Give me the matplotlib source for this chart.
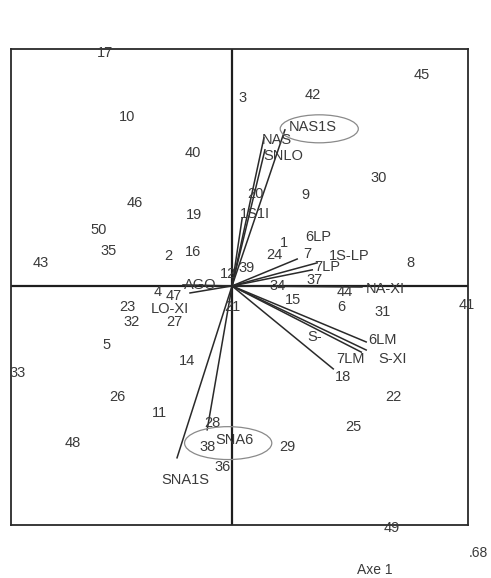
import matplotlib

matplotlib.use("Agg")
import matplotlib.pyplot as plt
from matplotlib.patches import Ellipse

# observation scores on axes 1 and 2
obs_labels = [
    "17", "10", "40", "46", "19", "50", "35", "2", "16", "43",
    "3", "42", "45", "30", "9", "20", "1", "24", "7", "8",
    "39", "12", "37", "34", "15", "44", "6", "31", "41", "18",
    "22", "25", "29", "49", "21", "4", "47", "23", "32", "27",
    "5", "14", "33", "26", "11", "48", "28", "38", "36",
]
obs_x = [
    -0.363, -0.300, -0.111, -0.277, -0.109, -0.380, -0.351, -0.183, -0.111, -0.546,
    0.031, 0.231, 0.543, 0.420, 0.209, 0.066, 0.149, 0.120, 0.214, 0.509,
    0.043, -0.011, 0.237, 0.129, 0.174, 0.323, 0.311, 0.429, 0.669, 0.317,
    0.460, 0.346, 0.157, 0.457, 0.000, -0.211, -0.166, -0.300, -0.286, -0.166,
    -0.357, -0.129, -0.611, -0.326, -0.206, -0.454, -0.057, -0.069, -0.026,
]
obs_y = [
    0.666, 0.483, 0.380, 0.237, 0.203, 0.160, 0.100, 0.086, 0.097, 0.066,
    0.537, 0.546, 0.603, 0.309, 0.260, 0.263, 0.123, 0.089, 0.091, 0.066,
    0.051, 0.034, 0.017, 0.000, -0.040, -0.017, -0.060, -0.074, -0.054, -0.260,
    -0.317, -0.403, -0.460, -0.691, -0.060, -0.017, -0.028, -0.060, -0.103, -0.103,
    -0.169, -0.214, -0.249, -0.317, -0.363, -0.449, -0.391, -0.460, -0.517,
]

# variable vectors: arrow tip and label position
var_labels = [
    "NAS1S", "NAS", "SNLO", "1S1I", "6LP", "1S-LP", "7LP", "NA-XI",
    "6LM", "S-", "7LM", "S-XI", "AGO", "LO-XI", "SNA6", "SNA1S",
]
var_tip_x = [
    0.151, 0.091, 0.094, 0.029, 0.186, 0.243, 0.229, 0.371,
    0.383, 0.289, 0.369, 0.383, -0.140, -0.120, -0.071, -0.157,
]
var_tip_y = [
    0.446, 0.423, 0.389, 0.194, 0.077, 0.066, 0.046, -0.003,
    -0.160, -0.237, -0.189, -0.183, 0.003, -0.020, -0.411, -0.491,
]
var_lab_x = [
    0.231, 0.129, 0.146, 0.066, 0.246, 0.334, 0.271, 0.437,
    0.429, 0.237, 0.337, 0.457, -0.092, -0.177, 0.006, -0.134,
]
var_lab_y = [
    0.454, 0.417, 0.371, 0.206, 0.140, 0.086, 0.054, -0.009,
    -0.154, -0.146, -0.209, -0.209, 0.003, -0.066, -0.440, -0.554,
]

# highlighted variables (centre x, centre y, width, height)
circled = [
    (0.249, 0.449, 0.223, 0.080),
    (-0.011, -0.449, 0.249, 0.094),
]

TXT = "#3a3a3a"
plt.rcParams["font.family"] = ["Liberation Sans", "DejaVu Sans"]

fig = plt.figure(figsize=(4.91, 5.78), dpi=100)
ax = fig.add_axes([0.0224, 0.0917, 0.931, 0.8235])
ax.set_xlim(-0.631, 0.674)
ax.set_ylim(-0.683, 0.677)
ax.set_xticks([])
ax.set_yticks([])
for s in ax.spines.values():
    s.set_color("#2a2a2a")
    s.set_linewidth(1.3)

ax.axhline(0, color="#1e1e1e", lw=1.6, zorder=1)
ax.axvline(0, color="#1e1e1e", lw=1.6, zorder=1)

for tx, ty in zip(var_tip_x, var_tip_y):
    ax.plot([0, tx], [0, ty], color="#2a2a2a", lw=1.1, zorder=2)

for lab, x, y in zip(var_labels, var_lab_x, var_lab_y):
    ax.text(x, y, lab, ha="center", va="center", fontsize=10.5, color=TXT, zorder=3)

for lab, x, y in zip(obs_labels, obs_x, obs_y):
    ax.text(x, y, lab, ha="center", va="center", fontsize=10.5, color=TXT,
            zorder=3, clip_on=False)

for cx, cy, w, h in circled:
    ax.add_patch(Ellipse((cx, cy), w, h, fill=False, ec="#8a8a8a", lw=0.9, zorder=2))

fig.text(0.9735, 0.0433, ".68", ha="center", va="center", fontsize=10, color=TXT)
fig.text(0.764, 0.0138, "Axe 1", ha="center", va="center", fontsize=10, color=TXT)

fig.savefig("out.png", dpi=100)
plt.close(fig)
